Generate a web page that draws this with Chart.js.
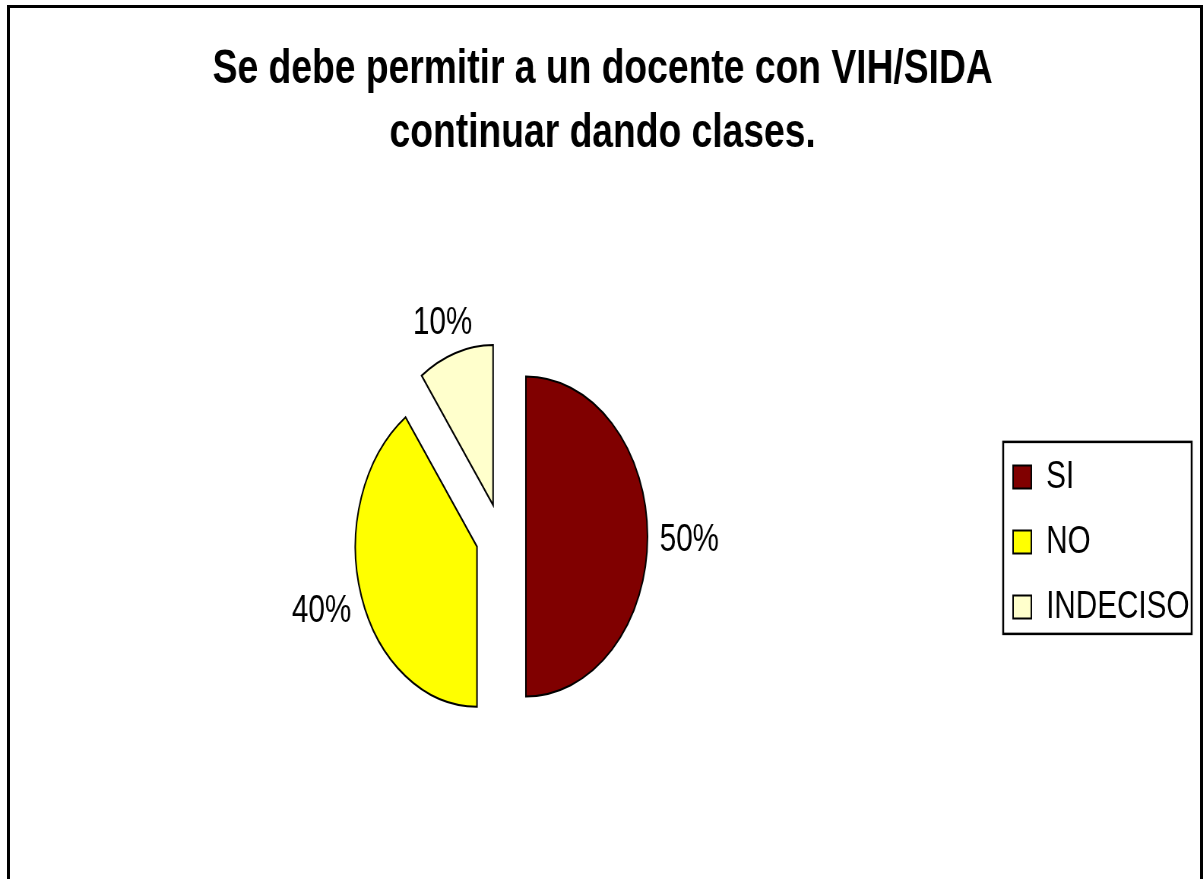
<!DOCTYPE html>
<html>
<head>
<meta charset="utf-8">
<script src="https://cdn.jsdelivr.net/npm/chart.js@4.4.0/dist/chart.umd.min.js"></script>
<style>
  html, body { margin: 0; padding: 0; background: #fff; overflow: hidden; }
  /* the original picture is squeezed horizontally, so the chart is drawn wide and scaled */
  #squeeze { position: absolute; left: 0; top: 0; width: 1583px; height: 879px;
             transform: scaleX(0.76); transform-origin: 0 0; }
  #frame { position: absolute; left: 7px; top: 5px; width: 1196px; height: 900px;
           border: 3px solid #000; box-sizing: border-box; }
</style>
</head>
<body>
<div id="squeeze"><canvas id="pieChart" width="1583" height="879"></canvas></div>
<div id="frame"></div>
<script>
// ── Data ─────────────────────────────────────────────
const categories  = ['SI', 'NO', 'INDECISO'];
const percents    = [50, 40, 10];
const sliceColors = ['#800000', '#FFFF00', '#FFFFCC'];
const titleLines  = ['Se debe permitir a un docente con VIH/SIDA', 'continuar dando clases.'];

const FONT = '"Liberation Sans", Arial, sans-serif';
const EXPLODE = 33;   // every slice pulled out by the same distance
Chart.defaults.font.family = FONT;

// draw each arc shifted along its bisector (Chart.js offset also grows the radius)
const explode = {
  id: 'explode',
  beforeDatasetDraw(chart, args) {
    const ctx = chart.ctx;
    args.meta.data.forEach(arc => {
      const mid = (arc.startAngle + arc.endAngle) / 2;
      ctx.save();
      ctx.translate(Math.cos(mid) * EXPLODE, Math.sin(mid) * EXPLODE);
      arc.draw(ctx);
      ctx.restore();
    });
    return false;
  }
};

// percent labels outside each slice
const pctLabels = {
  id: 'pctLabels',
  afterDatasetsDraw(chart) {
    const ctx = chart.ctx;
    const meta = chart.getDatasetMeta(0);
    const total = percents.reduce((a, b) => a + b, 0);
    ctx.save();
    ctx.font = '39px ' + FONT;
    ctx.fillStyle = '#000';
    ctx.textAlign = 'center';
    ctx.textBaseline = 'middle';
    meta.data.forEach((arc, i) => {
      const { x, y, startAngle, endAngle, outerRadius } =
        arc.getProps(['x', 'y', 'startAngle', 'endAngle', 'outerRadius'], true);
      const mid = (startAngle + endAngle) / 2;
      const cos = Math.cos(mid), sin = Math.sin(mid);
      const txt = Math.round(percents[i] / total * 100) + '%';
      const hw = ctx.measureText(txt).width / 2, hh = 19;
      const d = outerRadius + EXPLODE + 16;
      ctx.fillText(txt, x + cos * (d + hw), y + sin * (d + hh) + 4);
    });
    ctx.restore();
  }
};

// box round the legend
const legendFrame = {
  id: 'legendFrame',
  afterDraw(chart) {
    const boxes = chart.legend && chart.legend.legendHitBoxes;
    if (!boxes || !boxes.length) return;
    const first = boxes[0], last = boxes[boxes.length - 1];
    const ctx = chart.ctx;
    const left = first.left - 13;
    const top = first.top + first.height / 2 - 35;
    const bottom = last.top + last.height / 2 + 27;
    ctx.save();
    ctx.strokeStyle = '#000';
    ctx.lineWidth = 2.5;
    ctx.strokeRect(left, top, 248, bottom - top);
    ctx.restore();
  }
};

new Chart(document.getElementById('pieChart'), {
  type: 'pie',
  data: {
    labels: categories,
    datasets: [{
      data: percents,
      backgroundColor: sliceColors,
      borderColor: '#000',
      borderWidth: 2,
      borderJoinStyle: 'miter',
      offset: 0,
      hoverOffset: 0,
      radius: 160
    }]
  },
  options: {
    responsive: false,
    animation: false,
    layout: { padding: { left: 11, right: 8, top: 0, bottom: 0 } },
    plugins: {
      title: {
        display: true,
        text: titleLines,
        color: '#000',
        font: { family: FONT, size: 49, weight: 'bold', lineHeight: 1.306 },
        padding: { top: 37, bottom: 29 }
      },
      legend: {
        position: 'right',
        fullSize: false,
        // empty title only pushes the items down a little
        title: { display: true, text: ' ', font: { size: 9 }, padding: 0 },
        labels: {
          color: '#000',
          font: { family: FONT, size: 39 },
          boxWidth: 24,
          boxHeight: 23,
          padding: 26
        }
      },
      tooltip: { enabled: false }
    }
  },
  plugins: [explode, pctLabels, legendFrame]
});
</script>
</body>
</html>
